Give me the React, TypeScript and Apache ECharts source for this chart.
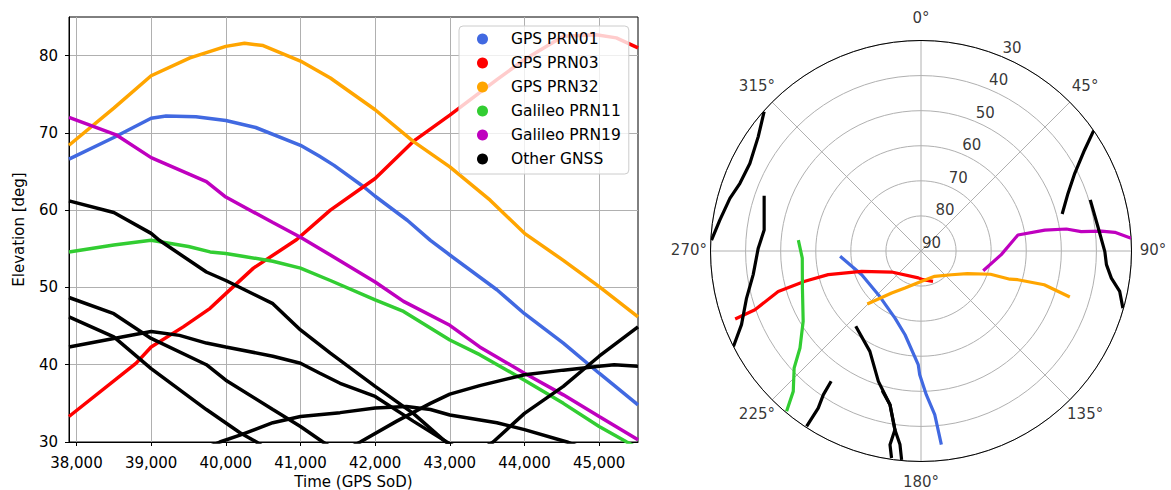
import React, { useEffect, useRef } from 'react';
import * as echarts from 'echarts';

// ---------- Axis ticks ----------
const timeTicks = [38000, 39000, 40000, 41000, 42000, 43000, 44000, 45000];
const elevTicks = [30, 40, 50, 60, 70, 80];
const skyElevTicks = [30, 40, 50, 60, 70, 80, 90];
const skyAzimuthTicks = [0, 45, 90, 135, 180, 225, 270, 315];

const legendNames = ['GPS PRN01', 'GPS PRN03', 'GPS PRN32', 'Galileo PRN11', 'Galileo PRN19', 'Other GNSS'];
const seriesColors = ['#4169E1', '#FF0000', '#FFA500', '#32CD32', '#BF00BF', '#000000'];

// ---------- Elevation vs time: [GPS SoD, elevation deg] ----------
const elevPRN01 = [[37900, 66.6], [38500, 69.4], [39000, 71.9], [39200, 72.2], [39600, 72.1], [40000, 71.6], [40400, 70.7], [41000, 68.4], [41250, 67.0], [41450, 65.8], [41850, 63.0], [42000, 61.8], [42430, 58.7], [42740, 56.1], [43000, 54.2], [43630, 49.7], [44000, 46.6], [44520, 42.8], [45000, 38.9], [45520, 34.8]];
const elevPRN03 = [[37900, 33.3], [38800, 40.2], [39000, 42.3], [39430, 44.9], [39790, 47.3], [40000, 49.2], [40370, 52.5], [40950, 56.2], [41400, 60.0], [42000, 64.1], [42510, 68.9], [43000, 72.3], [43630, 76.9], [44000, 79.5], [44520, 82.5], [44960, 82.7], [45230, 82.3], [45520, 81.0]];
const elevPRN32 = [[37900, 68.4], [38500, 73.2], [39000, 77.4], [39520, 79.7], [40000, 81.2], [40250, 81.6], [40500, 81.3], [41000, 79.3], [41400, 77.1], [42000, 73.0], [42510, 68.9], [43000, 65.6], [43540, 61.3], [44000, 57.0], [44520, 53.5], [45000, 50.1], [45520, 46.2]];
const elevE11 = [[37900, 54.6], [38500, 55.5], [39000, 56.1], [39500, 55.3], [39790, 54.6], [40000, 54.4], [40630, 53.4], [41000, 52.5], [41400, 50.9], [42000, 48.4], [42380, 46.9], [43000, 43.2], [43400, 41.3], [44000, 38.0], [44520, 35.0], [45000, 32.0], [45370, 30.0], [45520, 29.2]];
const elevE19 = [[37900, 72.0], [38540, 69.7], [39000, 66.8], [39740, 63.7], [40000, 61.7], [40630, 58.4], [41000, 56.5], [41400, 54.2], [42000, 50.7], [42380, 48.2], [43000, 45.1], [43400, 42.3], [44000, 38.9], [44520, 36.1], [45000, 33.3], [45520, 30.3]];
const elevOther1 = [[37900, 61.2], [38500, 59.7], [39000, 57.0], [39110, 56.1], [39740, 52.0], [40000, 50.9], [40630, 47.9], [41000, 44.5], [41400, 41.5], [42000, 37.2], [42510, 33.7], [42910, 30.3], [43000, 29.6]];
const elevOther2 = [[37900, 48.7], [38500, 46.6], [39000, 43.4], [39740, 40.0], [40000, 38.0], [40630, 34.2], [41000, 32.0], [41300, 30.0], [41400, 29.4]];
const elevOther3 = [[37900, 46.2], [38500, 43.6], [39000, 39.5], [39740, 34.2], [40190, 31.2], [40410, 30.0], [40500, 29.4]];
const elevOther4 = [[37900, 42.3], [38500, 43.4], [39000, 44.3], [39380, 43.8], [39740, 42.8], [40000, 42.3], [40630, 41.1], [41000, 40.2], [41260, 38.9], [41530, 37.6], [42000, 35.9], [42510, 32.7], [42960, 30.0], [43050, 29.5]];
const elevOther5 = [[39800, 29.5], [39920, 30.0], [40190, 30.9], [40630, 32.5], [41000, 33.3], [41530, 33.8], [42000, 34.4], [42420, 34.6], [42740, 34.2], [43000, 33.5], [43630, 32.5], [44000, 31.6], [44570, 30.0], [44700, 29.5]];
const elevOther6 = [[41700, 29.5], [41800, 30.0], [42290, 32.7], [42740, 35.0], [43000, 36.2], [43400, 37.3], [44000, 38.7], [44520, 39.3], [45000, 39.8], [45200, 40.0], [45520, 39.8]];
const elevOther7 = [[43450, 29.2], [43580, 30.0], [44000, 33.7], [44520, 37.2], [45000, 41.1], [45520, 44.9]];

// ---------- Sky plot: [elevation deg, azimuth deg] ----------
const skyPRN01 = [[66.9, 266.3], [71.8, 248.2], [72.6, 224.3], [69.5, 201.2], [65.7, 190.8], [57.6, 181.4], [54.7, 180.6], [49.0, 177.9], [43.2, 175.2], [34.5, 174.0]];
const skyPRN03 = [[33.6, 249.9], [39.8, 250.5], [47.7, 254.2], [55.8, 255.4], [62.7, 255.7], [72.1, 251.1], [79.7, 234.4], [82.3, 185.7], [81.8, 176.0], [80.7, 158.4]];
const skyPRN32 = [[68.5, 225.4], [75.4, 214.9], [78.5, 203.4], [81.4, 178.7], [81.8, 151.6], [79.0, 128.0], [75.3, 116.0], [69.1, 108.5], [63.4, 107.6], [61.2, 106.5], [53.6, 105.3], [45.6, 107.2]];
const skyE11 = [[54.9, 275.1], [56.1, 266.6], [54.6, 252.7], [50.9, 239.2], [45.8, 231.3], [40.8, 227.3], [35.9, 222.3], [30.4, 220.0]];
const skyE19 = [[71.4, 107.6], [67.1, 92.6], [62.0, 80.6], [54.2, 80.4], [48.1, 81.4], [44.0, 83.1], [38.3, 83.7], [34.5, 84.5], [30.0, 86.5]];
const skyOther1 = [[61.6, 220.9], [57.9, 207.0], [50.9, 198.1], [45.3, 191.4], [38.5, 188.3], [34.1, 189.1], [30.4, 188.1]];
const skyOther2 = [[48.7, 195.5], [45.3, 191.4], [38.5, 188.3], [34.5, 186.2], [30.2, 185.3]];
const skyOther3 = [[44.9, 214.6], [40.5, 214.2], [36.5, 213.2], [30.3, 213.1]];
const skyOther4 = [[42.6, 289.4], [44.9, 277.6], [44.0, 272.7], [43.6, 271.0], [41.7, 262.0], [38.5, 254.9], [34.7, 247.7], [30.0, 243.0]];
const skyOther5 = [[30.2, 311.6], [33.3, 305.1], [35.2, 297.1], [34.9, 290.5], [33.5, 285.4], [32.0, 278.8], [30.2, 273.0]];
const skyOther6 = [[30.2, 105.8], [32.2, 101.5], [35.2, 98.1], [37.0, 94.2], [37.6, 90.2], [39.1, 82.2], [39.6, 73.2]];
const skyOther7 = [[30.0, 55.1], [35.2, 58.3], [40.9, 63.2], [45.0, 68.6], [48.4, 75.3]];

// label placement in the sky plot (layout, not data)
const radiusLabelAzimuth = 22.5;
const azimuthLabelRadius = 23.85; // just outside the 30 deg rim

const FONT = 'DejaVu Sans';

export default function App() {
  const ref = useRef<HTMLDivElement>(null);

  useEffect(() => {
    if (!ref.current) return;
    const chart = echarts.init(ref.current, undefined, { renderer: 'svg' });

    const elevSets = [
      { name: legendNames[0], color: seriesColors[0], data: [elevPRN01] },
      { name: legendNames[1], color: seriesColors[1], data: [elevPRN03] },
      { name: legendNames[2], color: seriesColors[2], data: [elevPRN32] },
      { name: legendNames[3], color: seriesColors[3], data: [elevE11] },
      { name: legendNames[4], color: seriesColors[4], data: [elevE19] },
      { name: legendNames[5], color: seriesColors[5], data: [elevOther1, elevOther2, elevOther3, elevOther4, elevOther5, elevOther6, elevOther7] },
    ];
    const skySets = [
      { name: legendNames[0], color: seriesColors[0], data: [skyPRN01] },
      { name: legendNames[1], color: seriesColors[1], data: [skyPRN03] },
      { name: legendNames[2], color: seriesColors[2], data: [skyPRN32] },
      { name: legendNames[3], color: seriesColors[3], data: [skyE11] },
      { name: legendNames[4], color: seriesColors[4], data: [skyE19] },
      { name: legendNames[5], color: seriesColors[5], data: [skyOther1, skyOther2, skyOther3, skyOther4, skyOther5, skyOther6, skyOther7] },
    ];

    const series: any[] = [];
    elevSets.forEach((s, i) => {
      s.data.forEach((d) => {
        series.push({
          type: 'line',
          name: s.name,
          xAxisIndex: 0,
          yAxisIndex: 0,
          data: d,
          showSymbol: false,
          symbol: 'circle',
          silent: true,
          z: i === 5 ? 3 : 2,
          lineStyle: { color: s.color, width: 3.5 },
          itemStyle: { color: s.color },
        });
      });
    });
    skySets.forEach((s, i) => {
      s.data.forEach((d) => {
        series.push({
          type: 'line',
          name: s.name,
          coordinateSystem: 'polar',
          polarIndex: 0,
          data: d,
          showSymbol: false,
          symbol: 'circle',
          silent: true,
          z: i === 5 ? 3 : 2,
          lineStyle: { color: s.color, width: 3.2 },
          itemStyle: { color: s.color },
        });
      });
    });

    const labelText = { color: '#000', fontSize: 15, fontFamily: FONT, lineHeight: 14, textBorderWidth: 0, textShadowBlur: 0 };

    // radial tick labels of the sky plot
    series.push({
      type: 'scatter',
      coordinateSystem: 'polar',
      polarIndex: 0,
      data: skyElevTicks.map((v) => [v, radiusLabelAzimuth]),
      symbolSize: 1,
      silent: true,
      clip: false,
      itemStyle: { color: 'rgba(0,0,0,0)' },
      label: {
        show: true,
        position: 'inside',
        offset: [10.5, -8.5],
        formatter: (p: any) => String(p.value[0]),
        ...labelText,
      },
      z: 5,
    });
    // azimuth labels of the sky plot
    series.push({
      type: 'scatter',
      coordinateSystem: 'polar',
      polarIndex: 0,
      data: skyAzimuthTicks.map((a) => [azimuthLabelRadius, a]),
      symbolSize: 1,
      silent: true,
      clip: false,
      itemStyle: { color: 'rgba(0,0,0,0)' },
      label: {
        show: true,
        position: 'inside',
        offset: [0, -1],
        formatter: (p: any) => p.value[1] + '°',
        ...labelText,
      },
      z: 5,
    });

    const axisText = { color: '#000', fontSize: 15, fontFamily: FONT };

    chart.setOption({
      animation: false,
      textStyle: { fontFamily: FONT },
      grid: {
        left: 69,
        top: 17,
        width: 569,
        height: 425,
        outerBoundsMode: 'none',
        containLabel: false,
        show: true,
        borderColor: '#000',
        borderWidth: 1,
        backgroundColor: 'transparent',
      },
      xAxis: {
        type: 'value',
        min: 37900,
        max: 45520,
        name: 'Time (GPS SoD)',
        nameLocation: 'middle',
        nameGap: 32,
        nameTextStyle: { ...axisText, lineHeight: 15 },
        axisLine: { show: true, lineStyle: { color: '#000', width: 1 } },
        axisTick: { show: true, length: 4, customValues: timeTicks, lineStyle: { color: '#000' } },
        axisLabel: { ...axisText, margin: 13, customValues: timeTicks, formatter: (v: number) => v.toLocaleString('en-US') },
        splitLine: { show: true, lineStyle: { color: '#b0b0b0', width: 1 } },
      },
      yAxis: {
        type: 'value',
        min: 30,
        max: 85,
        name: 'Elevation [deg]',
        nameLocation: 'middle',
        nameGap: 43,
        nameRotate: 90,
        nameTextStyle: { ...axisText },
        axisLine: { show: true, lineStyle: { color: '#000', width: 1 } },
        axisTick: { show: true, length: 4, customValues: elevTicks, lineStyle: { color: '#000' } },
        axisLabel: { ...axisText, margin: 11, customValues: elevTicks },
        splitLine: { show: true, lineStyle: { color: '#b0b0b0', width: 1 } },
      },
      polar: { center: [921, 251], radius: 210.5 },
      angleAxis: {
        type: 'value',
        min: 0,
        max: 360,
        interval: 45,
        startAngle: 90,
        clockwise: true,
        axisLine: { show: true, lineStyle: { color: '#000', width: 1 } },
        axisTick: { show: false },
        axisLabel: { show: false },
        splitLine: { show: true, lineStyle: { color: '#b0b0b0', width: 1 } },
      },
      radiusAxis: {
        type: 'value',
        min: 30,
        max: 90,
        interval: 10,
        inverse: true,
        axisLine: { show: false },
        axisTick: { show: false },
        axisLabel: { show: false },
        splitLine: { show: true, lineStyle: { color: '#b0b0b0', width: 1 } },
      },
      legend: {
        data: legendNames,
        orient: 'vertical',
        left: 459,
        top: 26,
        icon: 'circle',
        itemWidth: 11,
        itemHeight: 11,
        itemGap: 6,
        padding: [4, 8, 6, 18],
        backgroundColor: 'rgba(255,255,255,0.8)',
        borderColor: '#cccccc',
        borderWidth: 1,
        borderRadius: 4,
        selectedMode: false,
        textStyle: { color: '#000', fontSize: 15.5, fontFamily: FONT, lineHeight: 18, padding: [0, 0, 0, 18] },
      },
      series,
    });

    return () => chart.dispose();
  }, []);

  return <div ref={ref} style={{ position: 'absolute', left: 0, top: 0, width: 1171, height: 490 }} />;
}
